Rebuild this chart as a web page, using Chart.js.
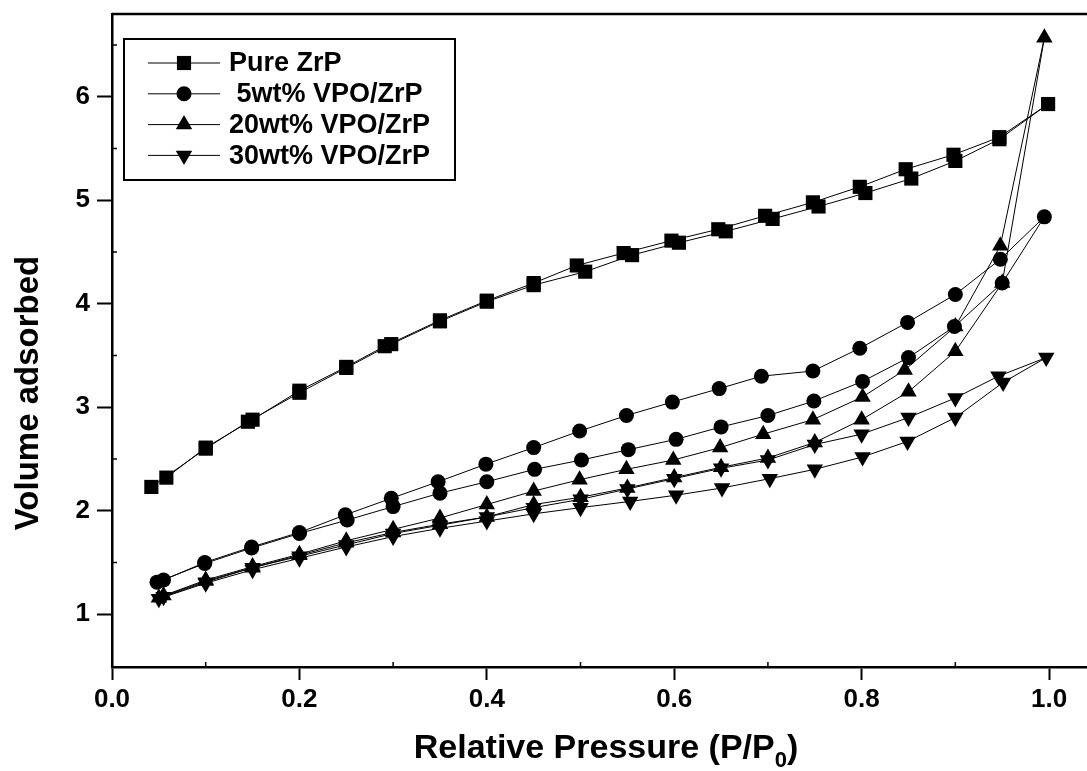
<!DOCTYPE html>
<html>
<head>
<meta charset="utf-8">
<script src="https://cdn.jsdelivr.net/npm/chart.js@4/dist/chart.umd.min.js"></script>
<style>
html,body{margin:0;padding:0;background:#fff;}
canvas{display:block;}
</style>
</head>
<body>
<canvas id="c" width="1087" height="771"></canvas>
<script>
// ---- data (adsorption branch ascending, then desorption branch descending) ----
const seriesNames = ["Pure ZrP", " 5wt% VPO/ZrP", "20wt% VPO/ZrP", "30wt% VPO/ZrP"];

const pureZrP_P = [0.042,0.100,0.145,0.200,0.250,0.298,0.350,0.400,0.450,0.505,0.555,0.605,0.655,0.705,0.754,0.804,0.853,0.900,0.947,0.999,
                   0.947,0.898,0.847,0.798,0.748,0.697,0.647,0.597,0.546,0.496,0.450,0.400,0.350,0.291,0.250,0.200,0.150,0.100,0.058];
const pureZrP_V = [2.23,2.60,2.86,3.14,3.38,3.61,3.83,4.02,4.18,4.31,4.47,4.59,4.70,4.82,4.94,5.07,5.21,5.38,5.59,5.93,
                   5.61,5.44,5.30,5.13,4.98,4.85,4.72,4.61,4.49,4.37,4.20,4.03,3.84,3.59,3.39,3.16,2.88,2.61,2.32];

const vpo5_P = [0.048,0.099,0.149,0.200,0.251,0.300,0.350,0.400,0.451,0.501,0.551,0.602,0.650,0.700,0.749,0.801,0.850,0.899,0.950,0.995,
                0.948,0.900,0.849,0.798,0.748,0.693,0.648,0.598,0.549,0.499,0.450,0.399,0.348,0.298,0.249,0.200,0.149,0.099,0.055];
const vpo5_V = [1.31,1.49,1.64,1.78,1.91,2.04,2.17,2.28,2.40,2.49,2.59,2.69,2.81,2.92,3.06,3.25,3.48,3.78,4.20,4.84,
                4.43,4.09,3.82,3.57,3.35,3.30,3.18,3.05,2.92,2.77,2.61,2.45,2.28,2.12,1.96,1.79,1.65,1.50,1.33];

const vpo20_P = [0.050,0.100,0.150,0.200,0.250,0.300,0.350,0.400,0.450,0.500,0.550,0.600,0.650,0.700,0.750,0.800,0.850,0.900,0.950,0.995,
                 0.948,0.900,0.846,0.801,0.748,0.695,0.649,0.599,0.549,0.499,0.450,0.400,0.350,0.300,0.250,0.200,0.150,0.100,0.055];
const vpo20_V = [1.16,1.32,1.45,1.57,1.69,1.79,1.87,1.94,2.06,2.13,2.22,2.32,2.42,2.51,2.66,2.88,3.15,3.54,4.20,6.57,
                 4.56,3.78,3.36,3.10,2.88,2.74,2.61,2.49,2.40,2.30,2.19,2.06,1.93,1.82,1.71,1.58,1.46,1.33,1.18];

const vpo30_P = [0.050,0.100,0.150,0.200,0.250,0.300,0.350,0.400,0.450,0.500,0.553,0.602,0.651,0.702,0.750,0.801,0.849,0.900,0.951,0.997,
                 0.946,0.900,0.850,0.800,0.750,0.700,0.650,0.600,0.550,0.500,0.450,0.400,0.350,0.300,0.250,0.200,0.150,0.100,0.055];
const vpo30_V = [1.15,1.30,1.43,1.54,1.65,1.75,1.83,1.90,1.97,2.03,2.09,2.15,2.22,2.31,2.40,2.52,2.67,2.90,3.24,3.48,
                 3.30,3.09,2.90,2.74,2.64,2.49,2.41,2.31,2.21,2.11,2.03,1.94,1.86,1.78,1.67,1.56,1.45,1.31,1.17];

const xTicks = [0.0, 0.2, 0.4, 0.6, 0.8, 1.0];
const xMinorTicks = [0.1, 0.3, 0.5, 0.7, 0.9];
const yTicks = [1, 2, 3, 4, 5, 6];
const yMinorTicks = [1.5, 2.5, 3.5, 4.5, 5.5, 6.5];
const xTitleMain = "Relative Pressure (P/P";
const xTitleSub = "0";
const xTitleEnd = ")";
const yTitle = "Volume adsorbed";

// ---- styles ----
const FONT = "'Liberation Sans', Arial, sans-serif";
const markers = [
  {pointStyle: 'rect', radius: 10, rotation: 0},
  {pointStyle: 'circle', radius: 7.5, rotation: 0},
  {pointStyle: 'triangle', radius: 9.5, rotation: 0},
  {pointStyle: 'triangle', radius: 9.5, rotation: 180}
];
const pairs = [[pureZrP_P, pureZrP_V],[vpo5_P, vpo5_V],[vpo20_P, vpo20_V],[vpo30_P, vpo30_V]];

const datasets = pairs.map((pr, i) => ({
  label: seriesNames[i],
  data: pr[0].map((p, k) => ({x: p, y: pr[1][k]})),
  showLine: true,
  borderColor: '#000',
  backgroundColor: '#000',
  borderWidth: 1,
  tension: 0,
  pointStyle: markers[i].pointStyle,
  pointRadius: markers[i].radius,
  pointRotation: markers[i].rotation,
  pointBorderWidth: 0,
  pointBackgroundColor: '#000',
  pointHoverRadius: markers[i].radius,
  clip: false
}));

const framePlugin = {
  id: 'frame',
  afterDraw(chart) {
    const ctx = chart.ctx;
    const a = chart.chartArea;
    const xs = chart.scales.x, ys = chart.scales.y;
    ctx.save();
    // top frame line
    ctx.strokeStyle = '#000';
    ctx.lineWidth = 2.5;
    ctx.beginPath();
    ctx.moveTo(a.left, a.top);
    ctx.lineTo(a.right, a.top);
    ctx.stroke();
    // minor ticks (inward)
    ctx.lineWidth = 1.5;
    ctx.beginPath();
    xMinorTicks.forEach(v => { const px = xs.getPixelForValue(v); ctx.moveTo(px, a.bottom); ctx.lineTo(px, a.bottom - 5); });
    yMinorTicks.forEach(v => { const py = ys.getPixelForValue(v); ctx.moveTo(a.left, py); ctx.lineTo(a.left + 5, py); });
    ctx.stroke();

    // legend
    const lx = a.left + 12, ly = a.top + 25;
    ctx.lineWidth = 2;
    ctx.strokeRect(lx, ly, 331, 141);
    ctx.font = "bold 27px " + FONT;
    ctx.textBaseline = 'middle';
    ctx.textAlign = 'left';
    ctx.fillStyle = '#000';
    for (let i = 0; i < 4; i++) {
      const y = ly + 24 + i * 30.8;
      ctx.lineWidth = 1;
      ctx.beginPath();
      ctx.moveTo(lx + 24, y);
      ctx.lineTo(lx + 96, y);
      ctx.stroke();
      if (Chart.helpers && Chart.helpers.drawPoint) {
        Chart.helpers.drawPoint(ctx, {pointStyle: markers[i].pointStyle, rotation: markers[i].rotation, radius: markers[i].radius, borderWidth: 0}, lx + 60, y);
      }
      ctx.fillText(seriesNames[i], lx + 105, y + 1);
    }

    // x axis title with subscript
    ctx.textBaseline = 'alphabetic';
    const fMain = "bold 34px " + FONT, fSub = "bold 22px " + FONT;
    ctx.font = fMain; const w1 = ctx.measureText(xTitleMain).width; const w3 = ctx.measureText(xTitleEnd).width;
    ctx.font = fSub; const w2 = ctx.measureText(xTitleSub).width;
    const total = w1 + w2 + w3;
    let sx = 606 - total / 2;
    const base = 758;
    ctx.font = fMain; ctx.fillText(xTitleMain, sx, base);
    ctx.font = fSub; ctx.fillText(xTitleSub, sx + w1, base + 9);
    ctx.font = fMain; ctx.fillText(xTitleEnd, sx + w1 + w2, base);

    // y axis title
    ctx.save();
    ctx.translate(29, 393);
    ctx.rotate(-Math.PI / 2);
    ctx.font = "bold 33px " + FONT;
    ctx.textAlign = 'center';
    ctx.textBaseline = 'middle';
    ctx.fillText(yTitle, 0, 0);
    ctx.restore();
    ctx.restore();
  }
};

new Chart(document.getElementById('c'), {
  type: 'line',
  data: {datasets},
  options: {
    responsive: false,
    animation: false,
    devicePixelRatio: 1,
    layout: {autoPadding: false, padding: {left: 0, right: 0, top: 14, bottom: 0}},
    plugins: {legend: {display: false}, tooltip: {enabled: false}},
    scales: {
      x: {
        type: 'linear',
        min: 0,
        max: 1.0405,
        afterBuildTicks: s => { s.ticks = xTicks.map(v => ({value: v})); },
        afterFit: s => { s.height = 104; s.paddingLeft = 0; s.paddingRight = 0; },
        border: {display: true, color: '#000', width: 2.5},
        grid: {display: true, drawOnChartArea: false, drawTicks: true, tickLength: 13, tickWidth: 2, tickColor: '#000'},
        ticks: {color: '#000', font: {family: FONT, size: 26, weight: 'bold'}, padding: 4, maxRotation: 0,
                callback: v => Number(v).toFixed(1)},
        title: {display: false}
      },
      y: {
        type: 'linear',
        min: 0.49,
        max: 6.8,
        afterBuildTicks: s => { s.ticks = yTicks.map(v => ({value: v})); },
        afterFit: s => { s.width = 112; s.paddingTop = 0; s.paddingBottom = 0; },
        border: {display: true, color: '#000', width: 2.5},
        grid: {display: true, drawOnChartArea: false, drawTicks: true, tickLength: 15, tickWidth: 2, tickColor: '#000'},
        ticks: {color: '#000', font: {family: FONT, size: 26, weight: 'bold'}, padding: 7,
                callback: v => String(v)},
        title: {display: false}
      }
    }
  },
  plugins: [framePlugin]
});
</script>
</body>
</html>
